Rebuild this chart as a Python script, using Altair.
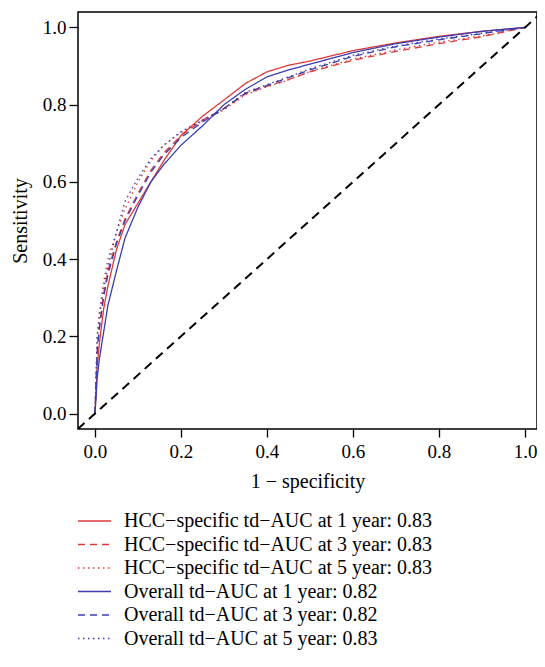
import altair as alt
import pandas as pd

# false positive rate grid (1 - specificity)
fpr = [0, 0.005, 0.01, 0.02, 0.03, 0.05, 0.07, 0.10, 0.13, 0.16, 0.20, 0.25,
       0.30, 0.35, 0.40, 0.45, 0.50, 0.60, 0.70, 0.80, 0.90, 1.0]

# sensitivity per curve
hcc_1y = [0, 0.12, 0.18, 0.27, 0.33, 0.425, 0.49, 0.545, 0.60, 0.655, 0.72, 0.77,
          0.812, 0.855, 0.885, 0.902, 0.913, 0.94, 0.96, 0.977, 0.99, 1.0]
hcc_3y = [0, 0.15, 0.22, 0.31, 0.37, 0.445, 0.505, 0.57, 0.63, 0.675, 0.72, 0.76,
          0.79, 0.828, 0.848, 0.865, 0.885, 0.915, 0.938, 0.958, 0.976, 1.0]
hcc_5y = [0, 0.19, 0.26, 0.34, 0.40, 0.47, 0.53, 0.60, 0.655, 0.695, 0.728, 0.758,
          0.786, 0.826, 0.846, 0.864, 0.886, 0.918, 0.942, 0.962, 0.978, 1.0]
ov_1y = [0, 0.09, 0.14, 0.21, 0.28, 0.37, 0.455, 0.535, 0.60, 0.645, 0.695, 0.745,
         0.80, 0.84, 0.872, 0.89, 0.905, 0.935, 0.958, 0.975, 0.99, 1.0]
ov_3y = [0, 0.16, 0.22, 0.30, 0.36, 0.44, 0.50, 0.565, 0.625, 0.67, 0.715, 0.755,
         0.79, 0.83, 0.85, 0.87, 0.89, 0.925, 0.95, 0.968, 0.984, 1.0]
ov_5y = [0, 0.20, 0.25, 0.32, 0.38, 0.47, 0.55, 0.61, 0.66, 0.695, 0.73, 0.76,
         0.79, 0.832, 0.852, 0.872, 0.893, 0.928, 0.952, 0.97, 0.985, 1.0]

labels = [
    "HCC\u2212specific td\u2212AUC at 1 year: 0.83",
    "HCC\u2212specific td\u2212AUC at 3 year: 0.83",
    "HCC\u2212specific td\u2212AUC at 5 year: 0.83",
    "Overall td\u2212AUC at 1 year: 0.82",
    "Overall td\u2212AUC at 3 year: 0.82",
    "Overall td\u2212AUC at 5 year: 0.83",
]
series = [hcc_1y, hcc_3y, hcc_5y, ov_1y, ov_3y, ov_5y]
colors = ["#dc3a38", "#dc3a38", "#dc3a38", "#3c3cb2", "#3c3cb2", "#3c3cb2"]
dashes = [[1, 0], [7, 5], [1.5, 3.5], [1, 0], [7, 5], [1.5, 3.5]]

x_domain = [-0.0395, 1.0279]
y_domain = [-0.04, 1.04]
diag = [-0.04, 1.04]
ticks = [0.0, 0.2, 0.4, 0.6, 0.8, 1.0]

rows = []
for lab, ys in zip(labels, series):
    for i, (x, y) in enumerate(zip(fpr, ys)):
        rows.append({"fpr": x, "tpr": y, "curve": lab, "i": i})
df = pd.DataFrame(rows)
ddf = pd.DataFrame({"x": diag, "y": diag})

FONT = "Liberation Serif"
xscale = alt.Scale(domain=x_domain, nice=False, zero=False)
yscale = alt.Scale(domain=y_domain, nice=False, zero=False)

leg = alt.Legend(
    title=None, orient="none", legendX=-1, legendY=500,
    symbolType="stroke", symbolSize=1089, symbolStrokeWidth=1.3,
    labelFont=FONT, labelFontSize=20, labelColor="black", labelOffset=12,
    labelLimit=0, clipHeight=18, rowPadding=3.5, padding=0,
)

lines = alt.Chart(df).mark_line(strokeWidth=1.3, clip=True).encode(
    x=alt.X("fpr:Q", scale=xscale,
            axis=alt.Axis(values=ticks, format=".1f", title="1 \u2212 specificity",
                          tickSize=8, labelPadding=5, titlePadding=10)),
    y=alt.Y("tpr:Q", scale=yscale,
            axis=alt.Axis(values=ticks, format=".1f", title="Sensitivity",
                          tickSize=9, labelPadding=3, titlePadding=12)),
    color=alt.Color("curve:N", scale=alt.Scale(domain=labels, range=colors), legend=leg),
    strokeDash=alt.StrokeDash("curve:N", scale=alt.Scale(domain=labels, range=dashes), legend=leg),
    order="i:Q",
)

diagonal = alt.Chart(ddf).mark_line(color="black", strokeWidth=2, strokeDash=[9, 6], clip=True).encode(
    x=alt.X("x:Q", scale=xscale),
    y=alt.Y("y:Q", scale=yscale),
)

chart = alt.layer(lines, diagonal).properties(
    width=459, height=417,
    autosize=alt.AutoSizeParams(type="none"),
    padding={"left": 70, "top": 4, "right": 0, "bottom": 223},
).configure_view(
    stroke="black", strokeWidth=1.5
).configure_axis(
    domain=False, grid=False, tickColor="black", tickWidth=1.3,
    labelFont=FONT, labelFontSize=19, labelColor="black",
    titleFont=FONT, titleFontSize=20, titleFontWeight="normal", titleColor="black",
)

chart.save("out.html", embed_options={"renderer": "svg", "actions": False})
